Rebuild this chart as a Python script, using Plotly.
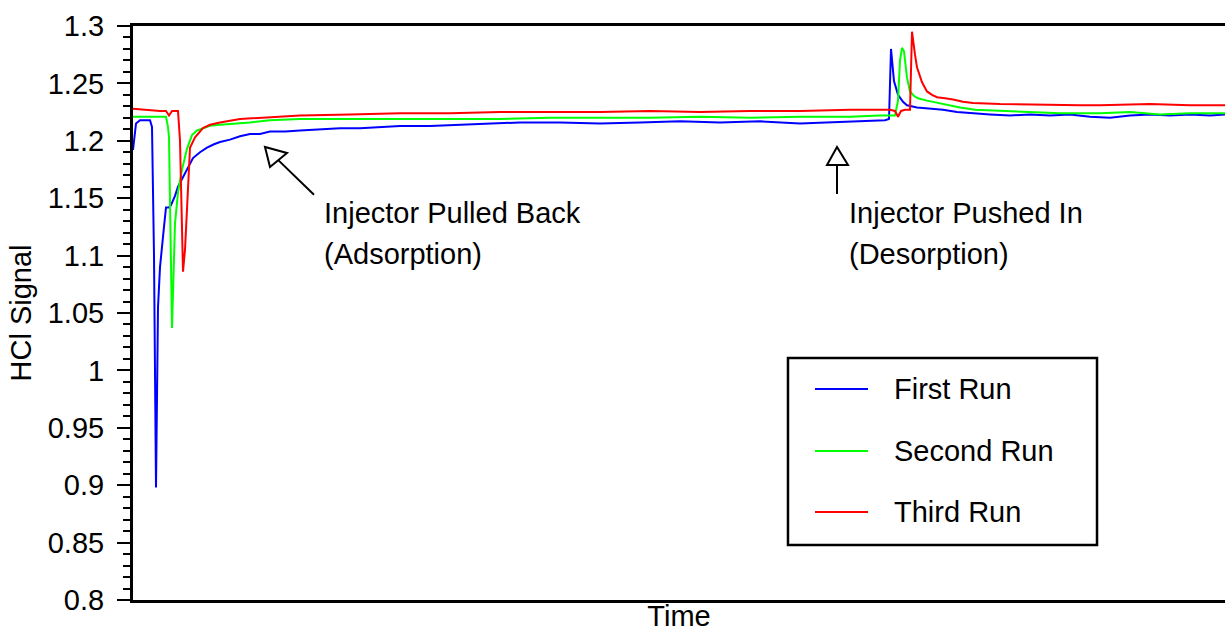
import plotly.graph_objects as go

# ---------------- data (time in arbitrary units, HCl signal) ----------------
first_t = [0, 3, 7, 17, 19, 21, 23, 25, 27, 29, 31, 33, 36, 38, 42, 45, 50, 55, 60, 67, 74, 81, 87,
           97, 107, 117, 127, 137, 152, 167, 187, 207, 227, 247, 267, 297, 327, 357, 387, 427, 467,
           507, 547, 587, 627, 667, 697, 727, 752, 756, 758, 761, 765, 770, 774, 784, 797, 810, 824,
           837, 857, 877, 897, 917, 937, 957, 977, 997, 1017, 1037, 1057, 1077, 1092]
first_v = [1.192, 1.215, 1.218, 1.218, 1.212, 1.100, 0.898, 1.055, 1.090, 1.105, 1.125, 1.142, 1.142,
           1.144, 1.152, 1.160, 1.168, 1.177, 1.185, 1.190, 1.194, 1.197, 1.199, 1.201, 1.204, 1.206,
           1.206, 1.208, 1.208, 1.209, 1.210, 1.211, 1.211, 1.212, 1.213, 1.213, 1.214, 1.215, 1.216,
           1.216, 1.215, 1.216, 1.217, 1.216, 1.217, 1.215, 1.216, 1.217, 1.218, 1.219, 1.280, 1.252,
           1.240, 1.234, 1.231, 1.229, 1.228, 1.227, 1.225, 1.224, 1.223, 1.222, 1.223, 1.222, 1.223,
           1.221, 1.220, 1.222, 1.223, 1.222, 1.223, 1.222, 1.223]

second_t = [0, 17, 33, 35, 36, 39, 42, 45, 49, 54, 59, 64, 70, 77, 87, 102, 117, 137, 167, 217, 267,
            317, 367, 417, 467, 517, 567, 617, 667, 717, 747, 762, 765, 767, 769, 771, 774, 777, 781,
            785, 794, 804, 817, 827, 842, 867, 897, 927, 967, 997, 1027, 1057, 1092]
second_v = [1.221, 1.221, 1.221, 1.212, 1.203, 1.037, 1.128, 1.155, 1.175, 1.193, 1.205, 1.209, 1.211,
            1.213, 1.214, 1.215, 1.216, 1.218, 1.219, 1.219, 1.219, 1.219, 1.219, 1.220, 1.220, 1.220,
            1.221, 1.220, 1.221, 1.221, 1.222, 1.222, 1.235, 1.270, 1.281, 1.278, 1.255, 1.243, 1.239,
            1.237, 1.235, 1.233, 1.231, 1.229, 1.227, 1.226, 1.225, 1.224, 1.224, 1.225, 1.223, 1.224,
            1.224]

third_t = [0, 12, 27, 33, 36, 39, 45, 47, 49, 50, 52, 55, 57, 62, 70, 77, 87, 107, 127, 147, 167, 217,
           267, 317, 367, 417, 467, 517, 567, 617, 667, 717, 737, 757, 762, 765, 768, 772, 777, 779,
           782, 784, 789, 794, 799, 804, 812, 820, 830, 840, 867, 917, 947, 967, 1017, 1057, 1092]
third_v = [1.228, 1.227, 1.226, 1.226, 1.222, 1.226, 1.226, 1.200, 1.130, 1.086, 1.105, 1.160, 1.194,
           1.203, 1.211, 1.214, 1.216, 1.219, 1.220, 1.221, 1.222, 1.223, 1.224, 1.224, 1.225, 1.225,
           1.225, 1.226, 1.225, 1.226, 1.226, 1.227, 1.227, 1.227, 1.226, 1.221, 1.226, 1.227, 1.227,
           1.295, 1.275, 1.264, 1.251, 1.243, 1.240, 1.238, 1.237, 1.236, 1.234, 1.233, 1.232, 1.231,
           1.231, 1.231, 1.232, 1.231, 1.231]

series_names = ["First Run", "Second Run", "Third Run"]
series_colors = ["#0000ff", "#00ff00", "#ff0000"]
series_t = [first_t, second_t, third_t]
series_v = [first_v, second_v, third_v]

tick_vals = [0.8, 0.85, 0.9, 0.95, 1.0, 1.05, 1.1, 1.15, 1.2, 1.25, 1.3]
tick_text = ["0.8", "0.85", "0.9", "0.95", "1", "1.05", "1.1", "1.15", "1.2", "1.25", "1.3"]

FONT = "Liberation Sans, Arial, sans-serif"
FS = 29

fig = go.Figure()
for name, col, t, v in zip(series_names, series_colors, series_t, series_v):
    fig.add_trace(go.Scatter(x=t, y=v, mode="lines", name=name,
                             line=dict(color=col, width=2), showlegend=False))

# annotation arrows (open triangle heads)
shapes = []
def open_arrow(tip, c1, c2, base, tail):
    shapes.append(dict(type="line", xref="x", yref="y", x0=base[0], y0=base[1], x1=tail[0], y1=tail[1],
                       line=dict(color="black", width=2)))
    shapes.append(dict(type="path", xref="x", yref="y",
                       path=f"M {tip[0]},{tip[1]} L {c1[0]},{c1[1]} L {c2[0]},{c2[1]} Z",
                       fillcolor="white", line=dict(color="black", width=2)))

open_arrow((132, 1.1946), (137, 1.1772), (154, 1.1894), (145, 1.1834), (181, 1.1530))
open_arrow((704, 1.1946), (694, 1.1789), (715, 1.1789), (704, 1.1789), (704, 1.1537))

label_lines = [
    (189, 1.1370, "Injector Pulled Back"),
    (189, 1.1013, "(Adsorption)"),
    (714, 1.1370, "Injector Pushed In"),
    (714, 1.1013, "(Desorption)"),
]
annotations = [dict(x=lx, y=ly, xref="x", yref="y", xanchor="left", yanchor="middle", showarrow=False,
                    text=txt, font=dict(family=FONT, size=FS, color="black"))
               for lx, ly, txt in label_lines]

# manual legend box
shapes.append(dict(type="rect", xref="paper", yref="paper", x0=0.5998, x1=0.8828, y0=0.0958, y1=0.4216,
                   line=dict(color="black", width=2.5), fillcolor="white"))
leg_y = [0.3676, 0.2596, 0.1533]
for name, col, yy in zip(series_names, series_colors, leg_y):
    shapes.append(dict(type="line", xref="paper", yref="paper", x0=0.6245, x1=0.6731, y0=yy, y1=yy,
                       line=dict(color=col, width=2)))
    annotations.append(dict(x=0.695, y=yy, xref="paper", yref="paper", xanchor="left", yanchor="middle",
                            showarrow=False, text=name, font=dict(family=FONT, size=FS, color="black")))

fig.update_layout(
    width=1225, height=632,
    margin=dict(l=133, r=0, t=26, b=32),
    paper_bgcolor="white", plot_bgcolor="white",
    font=dict(family=FONT, size=FS, color="black"),
    shapes=shapes, annotations=annotations,
    showlegend=False,
)
fig.update_xaxes(range=[0, 1092], showticklabels=False, ticks="", showgrid=False, zeroline=False,
                 showline=True, linecolor="black", linewidth=3, mirror=True,
                 title=dict(text="Time", font=dict(family=FONT, size=FS), standoff=8), automargin=False)
fig.update_yaxes(range=[0.8, 1.3], tickvals=tick_vals, ticktext=tick_text, ticks="outside", ticklen=13,
                 tickwidth=2, tickcolor="black", showgrid=False, zeroline=False,
                 showline=True, linecolor="black", linewidth=3, mirror=False,
                 minor=dict(dtick=0.01, tick0=0.8, ticks="outside", ticklen=7, tickwidth=2, tickcolor="black",
                            showgrid=False),
                 tickfont=dict(family=FONT, size=FS), ticklabelstandoff=7,
                 title=dict(text="HCl Signal", font=dict(family=FONT, size=FS), standoff=8), automargin=False)

fig.write_html("out.html")
